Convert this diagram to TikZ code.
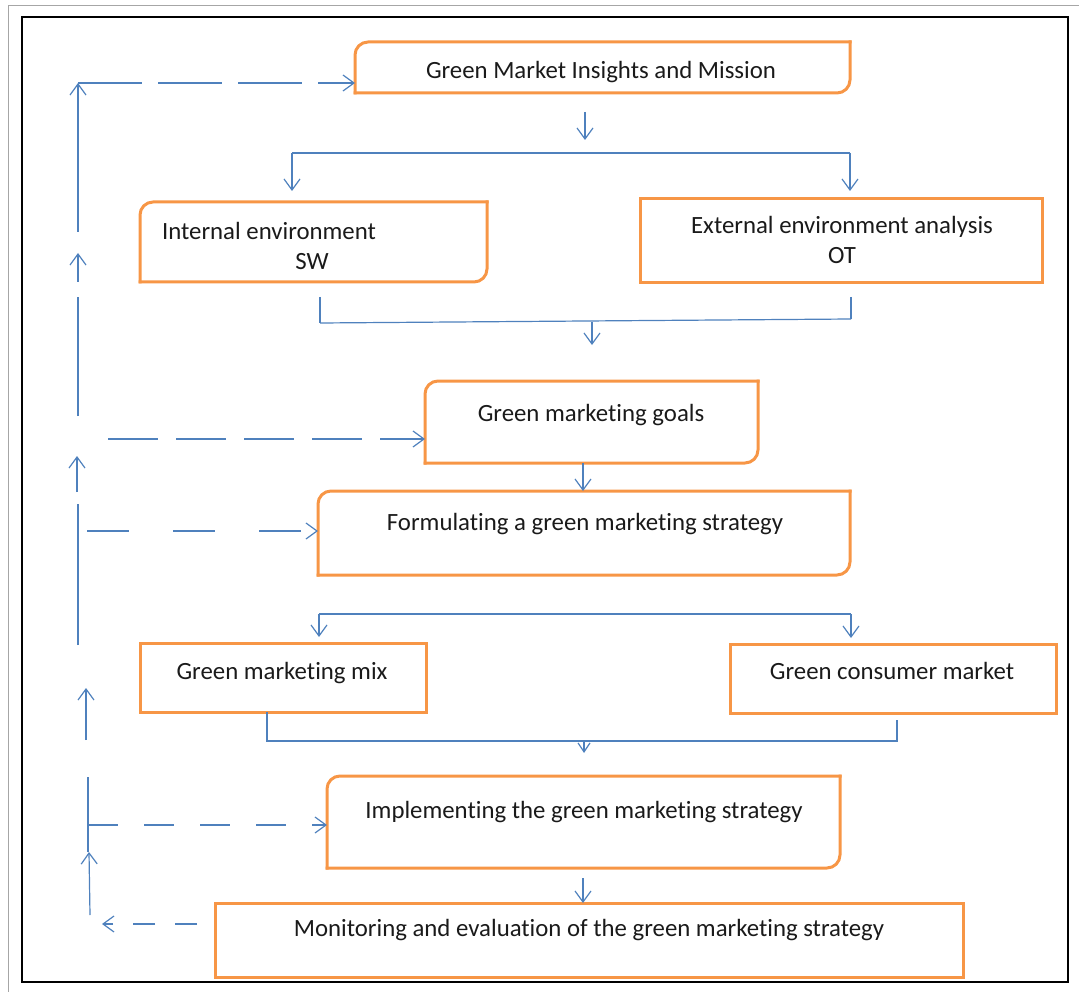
\documentclass[tikz,border=0pt]{standalone}
\usepackage{fontspec}
\setmainfont{Carlito}[Ligatures=NoCommon]
\usetikzlibrary{arrows.meta,calc}
\definecolor{boxorange}{HTML}{F79646}
\definecolor{lineblue}{HTML}{4F81BD}
\definecolor{txtgray}{HTML}{1A1A1A}
\tikzset{
  boxnode/.style={rectangle,draw=none,inner sep=0pt,outer sep=0pt,anchor=north west},
  obox/.style={draw=boxorange,line width=3pt,line cap=rect},
  sqbox/.style={boxnode,draw=boxorange,line width=3pt},
  lbl/.style={font=\fontsize{24.8}{28}\selectfont,text=txtgray,inner sep=0pt,anchor=base},
  conn/.style={draw=lineblue,line width=1.2pt},
  arr/.style={conn,-{Straight Barb[length=11pt,width=16pt,line width=1.2pt]}},
  darr/.style={arr,dash pattern=#1},
}
\newcommand{\drawRoundBox}[1]{%
  \draw[obox,rounded corners=13pt] (#1.south west) |- (#1.north east);
  \draw[obox,rounded corners=13pt] (#1.north east) |- (#1.south west);}
\begin{document}
\begin{tikzpicture}[x=1pt,y=-1pt]
\useasboundingbox (0,0) rectangle (1079,992);
% frames
\draw[gray!70,line width=1pt] (8,992) -- (8,6) -- (1079,6);
\draw[black,line width=1.2pt] (22,17) rectangle (1068,982);

% boxes
\node[boxnode,minimum width=495pt,minimum height=51pt] (b1) at (355,42) {};
\node[boxnode,minimum width=347pt,minimum height=80pt] (b2) at (140,202) {};
\node[sqbox,minimum width=402pt,minimum height=84pt] (b3) at (640,199) {};
\node[boxnode,minimum width=333pt,minimum height=82pt] (b4) at (425,381) {};
\node[boxnode,minimum width=532pt,minimum height=84pt] (b5) at (318,491) {};
\node[sqbox,minimum width=286pt,minimum height=69pt] (b6) at (140,643) {};
\node[sqbox,minimum width=326pt,minimum height=69pt] (b7) at (730,644) {};
\node[boxnode,minimum width=513pt,minimum height=92pt] (b8) at (327,776) {};
\node[sqbox,minimum width=748pt,minimum height=74pt] (b9) at (215,903) {};
\drawRoundBox{b1}
\drawRoundBox{b2}
\drawRoundBox{b4}
\drawRoundBox{b5}
\drawRoundBox{b8}

% labels
\node[lbl] (t1) at (601,79) {Green Market Insights and Mission};
\node[lbl] (t2a) at (269,240) {Internal environment};
\node[lbl] (t2b) at (312,270) {SW};
\node[lbl] (t3a) at (842,234) {External environment analysis};
\node[lbl] (t3b) at (842,264) {OT};
\node[lbl] (t4) at (591,421) {Green marketing goals};
\node[lbl] (t5) at (585,530) {Formulating a green marketing strategy};
\node[lbl] (t6) at (282,679) {Green marketing mix};
\node[lbl] (t7) at (892,679) {Green consumer market};
\node[lbl] (t8) at (584,818) {Implementing the green marketing strategy};
\node[lbl] (t9) at (589,936) {Monitoring and evaluation of the green marketing strategy};

% main flow
\coordinate (a1s) at (585,112);
\coordinate (a1e) at (585,140);
\draw[arr] (a1s) -- (a1e);
\coordinate (s1l) at (292,153);
\coordinate (s1r) at (850,153);
\draw[conn] (s1l) -- (s1r);
\draw[arr] (s1l) -- ($(s1l |- b2.north)+(0,-11)$);
\draw[arr] (s1r) -- ($(s1r |- b3.north)+(0,-8)$);

\coordinate (m1l) at (320,297);
\coordinate (m1lb) at (320,323);
\coordinate (m1r) at (851,297);
\coordinate (m1rb) at (851,319);
\draw[conn] (m1l) -- (m1lb);
\draw[conn] (m1r) -- (m1rb);
\draw[conn] (m1lb) -- (m1rb);
\coordinate (a2s) at (592,322);
\draw[arr] (a2s) -- (592,345);

\draw[arr] (b4.south -| 583,0) -- (b5.north -| 583,0);

\coordinate (s2l) at (319,614);
\coordinate (s2r) at (851,614);
\draw[conn] (s2l) -- (s2r);
\draw[arr] (s2l) -- ($(s2l |- b6.north)+(0,-6)$);
\draw[arr] (s2r) -- ($(s2r |- b7.north)+(0,-6)$);

\coordinate (m2l) at (267,741);
\coordinate (m2r) at (897,741);
\draw[conn] (b6.south -| m2l) -- (m2l) -- (m2r) -- (897,720);
\draw[-{Straight Barb[length=9pt,width=12pt,line width=1.2pt]},conn] (584,741) -- (584,753);

\draw[arr] (583,878) -- (b9.north -| 583,0);

% feedback loop (left)
\coordinate (f1) at (78,83);
\draw[arr] (78,232) -- (f1);
\draw[darr={on 64pt off 16pt}] (f1) -- (f1 -| b1.west);
\draw[arr] (78,282) -- (78,253);
\draw[conn] (78,416) -- (78,297);
\coordinate (f2) at (108,439);
\draw[darr={on 50pt off 18pt}] (f2) -- (f2 -| b4.west);
\draw[arr] (77,492) -- (77,456);
\draw[conn] (78,645) -- (78,504);
\coordinate (f3) at (87,531);
\draw[darr={on 42pt off 44pt}] (f3) -- (f3 -| b5.west);
\draw[arr] (86,740) -- (86,688);
\coordinate (f4) at (88,825);
\draw[conn] (88,852) -- (88,777);
\draw[darr={on 30pt off 26pt}] (f4) -- (f4 -| b8.west);
\draw[arr] (90,915) -- (89,852);
\coordinate (f5) at (197,924);
\draw[darr={on 22pt off 20pt}] (f5) -- (102,924);
\end{tikzpicture}
\end{document}
